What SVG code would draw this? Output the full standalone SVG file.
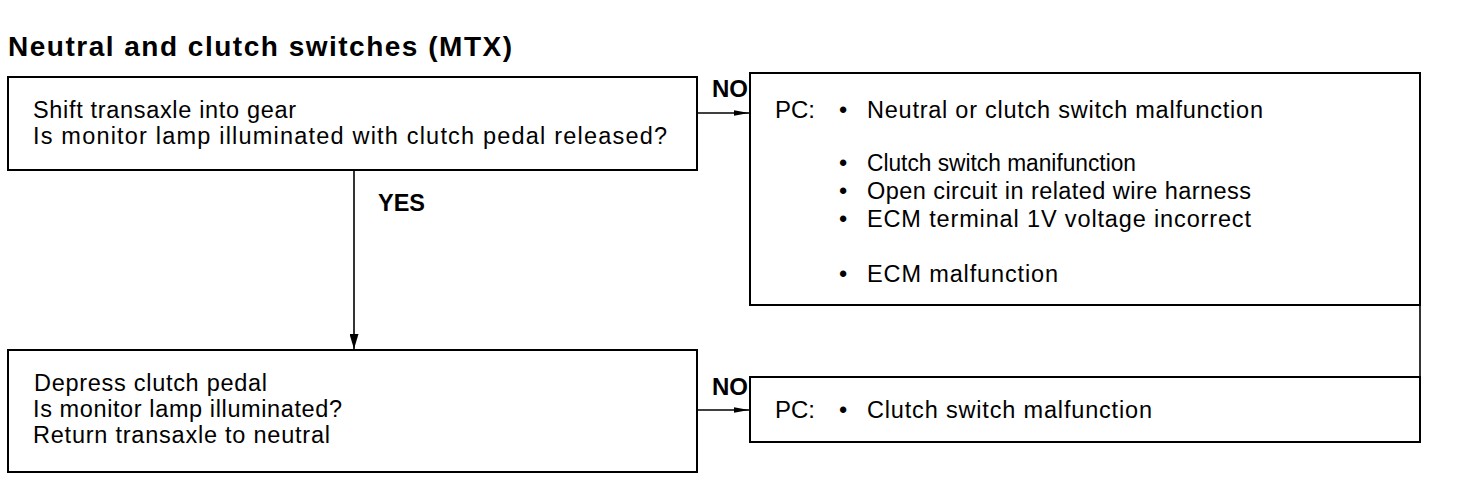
<svg xmlns="http://www.w3.org/2000/svg" width="1472" height="490" viewBox="0 0 1472 490">
<defs>
<style>
text{font-family:"Liberation Sans",Arial,sans-serif;fill:#000}
.t{font-size:23.5px}
.b{font-size:23px;font-weight:bold}
.h{font-size:28px;font-weight:bold}
.box{fill:#fff;stroke:#000;stroke-width:2}
.ln{fill:none;stroke:#000;stroke-width:1.6}
</style>
<marker id="ah" viewBox="0 0 10 10" refX="10" refY="5" markerWidth="15" markerHeight="8" markerUnits="userSpaceOnUse" orient="auto" preserveAspectRatio="none"><path d="M0,1.5 L10,5 L0,8.5 Z" fill="#000"/></marker>
<marker id="av" viewBox="0 0 10 10" refX="10" refY="5" markerWidth="15" markerHeight="9" markerUnits="userSpaceOnUse" orient="auto" preserveAspectRatio="none"><path d="M0,0 L10,5 L0,10 Z" fill="#000"/></marker>
</defs>
<rect width="1472" height="490" fill="#fff"/>
<text class="h" x="8" y="56" textLength="504" lengthAdjust="spacing">Neutral and clutch switches (MTX)</text>
<g id="connectors">
<path class="ln" d="M697,113 H749" marker-end="url(#ah)"/>
<path class="ln" d="M697,410 H749" marker-end="url(#ah)"/>
<path class="ln" d="M354,170 V349" marker-end="url(#av)"/>
<path class="ln" d="M1420,305 V377"/>
<text class="b" x="712" y="97" textLength="36" lengthAdjust="spacingAndGlyphs">NO</text>
<text class="b" x="712" y="395" textLength="36" lengthAdjust="spacingAndGlyphs">NO</text>
<text class="b" x="378" y="211" textLength="47" lengthAdjust="spacingAndGlyphs">YES</text>
</g>
<g id="q1">
<rect class="box" x="8" y="77" width="689" height="93"/>
<text class="t" x="33" y="118" textLength="263" lengthAdjust="spacing">Shift transaxle into gear</text>
<text class="t" x="33" y="144" textLength="634" lengthAdjust="spacing">Is monitor lamp illuminated with clutch pedal released?</text>
</g>
<g id="pc1">
<rect class="box" x="750" y="73" width="670" height="232"/>
<text class="t" x="775" y="118" textLength="40" lengthAdjust="spacingAndGlyphs">PC:</text>
<text class="t" x="839" y="118">•</text><text class="t" x="867" y="118" textLength="396" lengthAdjust="spacing">Neutral or clutch switch malfunction</text>
<text class="t" x="839" y="171">•</text><text class="t" x="867" y="171" textLength="269" lengthAdjust="spacingAndGlyphs">Clutch switch manifunction</text>
<text class="t" x="839" y="199">•</text><text class="t" x="867" y="199" textLength="384" lengthAdjust="spacing">Open circuit in related wire harness</text>
<text class="t" x="839" y="227">•</text><text class="t" x="867" y="227" textLength="384" lengthAdjust="spacing">ECM terminal 1V voltage incorrect</text>
<text class="t" x="839" y="282">•</text><text class="t" x="867" y="282" textLength="191" lengthAdjust="spacing">ECM malfunction</text>
</g>
<g id="q2">
<rect class="box" x="8" y="350" width="689" height="122"/>
<text class="t" x="34" y="391" textLength="233" lengthAdjust="spacing">Depress clutch pedal</text>
<text class="t" x="33" y="417" textLength="309" lengthAdjust="spacing">Is monitor lamp illuminated?</text>
<text class="t" x="33" y="443" textLength="297" lengthAdjust="spacing">Return transaxle to neutral</text>
</g>
<g id="pc2">
<rect class="box" x="750" y="377" width="670" height="65"/>
<text class="t" x="775" y="418" textLength="40" lengthAdjust="spacingAndGlyphs">PC:</text>
<text class="t" x="839" y="418">•</text><text class="t" x="867" y="418" textLength="285" lengthAdjust="spacing">Clutch switch malfunction</text>
</g>
</svg>
